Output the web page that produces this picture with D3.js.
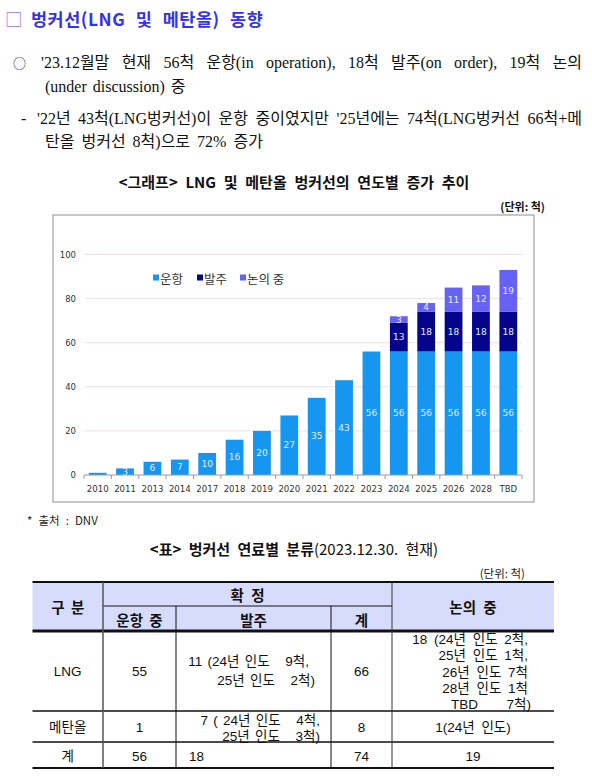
<!DOCTYPE html>
<html><head><meta charset="utf-8">
<script src="https://cdn.jsdelivr.net/npm/d3@7"></script>
<style>
body{margin:0;background:#fff;}
svg{display:block;}
</style></head><body>
<script>
// ---------- DATA ----------
const categories = ["2010","2011","2013","2014","2017","2018","2019","2020","2021","2022","2023","2024","2025","2026","2028","TBD"];
const operating = [1,3,6,7,10,16,20,27,35,43,56,56,56,56,56,56];
const onOrder = [0,0,0,0,0,0,0,0,0,0,0,13,18,18,18,18];
const underDiscussion = [0,0,0,0,0,0,0,0,0,0,0,3,4,11,12,19];
const seriesNames = ["운항","발주","논의 중"];
const yTicks = [0,20,40,60,80,100];

const pageTitle = "벙커선(LNG 및 메탄올) 동향";
const bullet1 = "'23.12월말 현재 56척 운항(in operation), 18척 발주(on order), 19척 논의";
const bullet1b = "(under discussion) 중";
const bullet2 = "'22년 43척(LNG벙커선)이 운항 중이였지만 '25년에는 74척(LNG벙커선 66척+메";
const bullet2b = "탄올 벙커선 8척)으로 72% 증가";
const chartTitle = "<그래프> LNG 및 메탄올 벙커선의 연도별 증가 추이";
const unitText = "(단위: 척)";
const sourceText = "* 출처 : DNV";
const tableTitleBold = "<표> 벙커선 연료별 분류";
const tableTitleRest = "(2023.12.30. 현재)";

const headTop = ["구 분","확 정","논의 중"];
const headSub = ["운항 중","발주","계"];
const rowNames = ["LNG","메탄올","계"];
const colOperating = ["55","1","56"];
const colOrder = [["11 (24년 인도   9척,","25년 인도   2척)"],["7 ( 24년 인도   4척,","25년 인도   3척)"],["18"]];
const colTotal = ["66","8","74"];
const colDiscussion = [["18 (24년 인도 2척,","25년 인도 1척,","26년 인도 7척","28년 인도 1척","TBD|7척)"],["1(24년 인도)"],["19"]];

// ---------- SETUP ----------
const KR = "'Noto Sans CJK KR', sans-serif";
const TB = "'Liberation Sans', 'Noto Sans CJK KR', sans-serif";
const SERIF = "'Liberation Serif', 'Noto Sans CJK KR', serif";
const W = 592, H = 784;
const svg = d3.select("body").append("svg").attr("width", W).attr("height", H);

function plain(str, x, y, font, size, opts = {}) {
  return svg.append("text").attr("x", x).attr("y", y).attr("dominant-baseline","central")
    .attr("font-family", font).attr("font-size", size).attr("fill", opts.fill || "#111")
    .attr("font-weight", opts.weight || "normal").attr("text-anchor", opts.anchor || "start")
    .style("white-space", "pre")
    .style("word-spacing", (opts.ws || 0) + "px")
    .style("letter-spacing", (opts.ls || 0) + "px")
    .text(str);
}
function justify(str, x0, x1, y, font, size) {
  const words = str.split(" ");
  const g = svg.append("g");
  const nodes = words.map(w => g.append("text").attr("y", y).attr("dominant-baseline","central")
      .attr("font-family", font).attr("font-size", size).attr("fill", "#111").text(w));
  const widths = nodes.map(n => n.node().getComputedTextLength());
  const gap = (x1 - x0 - d3.sum(widths)) / (words.length - 1);
  let x = x0;
  nodes.forEach((n, i) => { n.attr("x", x); x += widths[i] + gap; });
}

// ---------- HEADER TEXT ----------
plain("□", 5, 18, KR, 17.5, {fill:"#a070e8"});
plain(pageTitle, 31, 18, KR, 17.5, {weight:"bold", fill:"#3434e6", ws:6, ls:0.5});

plain("○", 13, 62, KR, 13, {fill:"#222"});
justify(bullet1, 41, 582, 62, SERIF, 16);
plain(bullet1b, 45, 86, SERIF, 16, {ws:2});
plain("-", 21, 118, SERIF, 16);
justify(bullet2, 37, 582, 118, SERIF, 16);
plain(bullet2b, 45, 141, SERIF, 16, {ws:3});

plain(chartTitle, 294, 181, KR, 15, {weight:"bold", anchor:"middle", ws:4.3});
plain(unitText, 545, 206, KR, 11, {weight:"bold", anchor:"end"});

// ---------- CHART ----------
svg.append("rect").attr("x", 53).attr("y", 215).attr("width", 481).attr("height", 287)
  .attr("fill", "#fff").attr("stroke", "#a8a8a8").attr("stroke-width", 1.3);

const x = d3.scaleBand().domain(categories).range([84, 522]).paddingInner(0.35).paddingOuter(0.175);
const y = d3.scaleLinear().domain([0, 100]).range([475, 254.5]);

svg.append("g").selectAll("line").data(yTicks.filter(d => d > 0)).join("line")
  .attr("x1", 85).attr("x2", 522).attr("y1", d => y(d)).attr("y2", d => y(d))
  .attr("stroke", "#eddfe4").attr("stroke-width", 1);

const yAxis = svg.append("g").attr("transform", "translate(84,0)")
  .call(d3.axisLeft(y).tickValues(yTicks).tickSize(0).tickPadding(8));
yAxis.select(".domain").remove();
yAxis.selectAll("text").attr("font-family", "'DejaVu Sans', sans-serif").attr("font-size", 8.5).attr("fill", "#333");

const table = categories.map((c, i) => ({cat: c, op: operating[i], ord: onOrder[i], dis: underDiscussion[i]}));
const stack = d3.stack().keys(["op","ord","dis"])(table);
const colors = {op: "#1597f1", ord: "#05058c", dis: "#6762f3"};

const gBars = svg.append("g");
stack.forEach(s => {
  gBars.append("g").selectAll("rect").data(s.filter(d => d[1] - d[0] > 0)).join("rect")
    .attr("x", d => x(d.data.cat)).attr("width", x.bandwidth())
    .attr("y", d => y(d[1])).attr("height", d => y(d[0]) - y(d[1]))
    .attr("fill", colors[s.key]);
  gBars.append("g").selectAll("text").data(s.filter(d => d[1] - d[0] >= 2)).join("text")
    .attr("x", d => x(d.data.cat) + x.bandwidth() / 2)
    .attr("y", d => y((d[0] + d[1]) / 2))
    .attr("text-anchor", "middle").attr("dominant-baseline", "central")
    .attr("font-family", "'DejaVu Sans', sans-serif").attr("font-size", 9)
    .attr("fill", "#e2ecfb").text(d => d[1] - d[0]);
});

const xAxisG = svg.append("g").attr("transform", "translate(0,475)");
xAxisG.append("line").attr("x1", 84).attr("x2", 522).attr("stroke", "#9a9a9a");
const bounds = categories.map(c => x(c) - x.step() * x.paddingInner() / 2).concat([522]);
xAxisG.selectAll("line.tk").data(bounds).join("line").attr("class","tk")
  .attr("x1", d => d).attr("x2", d => d).attr("y1", 0).attr("y2", 4).attr("stroke", "#9a9a9a");
xAxisG.selectAll("text").data(categories).join("text")
  .attr("x", d => x(d) + x.bandwidth() / 2).attr("y", 14).attr("text-anchor", "middle")
  .attr("dominant-baseline", "central")
  .attr("font-family", "'DejaVu Sans', sans-serif").attr("font-size", 8.6).attr("fill", "#333").text(d => d);

const legX = [153, 197, 240];
const legCols = [colors.op, colors.ord, colors.dis];
seriesNames.forEach((n, i) => {
  svg.append("rect").attr("x", legX[i]).attr("y", 274.5).attr("width", 6).attr("height", 6).attr("fill", legCols[i]);
  plain(n, legX[i] + 7, 278, KR, 12.5, {fill:"#333"});
});

// ---------- SOURCE & TABLE TITLE ----------
plain(sourceText, 27, 520, KR, 11.5, {fill:"#222", ws:3.5});
const tt = svg.append("text").attr("x", 294).attr("y", 548).attr("text-anchor","middle").attr("dominant-baseline","central")
  .attr("font-family", KR).attr("font-size", 15).attr("fill", "#111").style("word-spacing","4px");
tt.append("tspan").attr("font-weight","bold").text(tableTitleBold);
tt.append("tspan").text(tableTitleRest);
plain(unitText, 525, 573, KR, 11.5, {anchor:"end", fill:"#222"});

// ---------- TABLE ----------
const cx = [32.5, 103, 176, 331, 392, 554];
const ry = [582, 606, 631, 711, 742, 768];
svg.append("rect").attr("x", cx[0]).attr("y", ry[0]).attr("width", cx[5]-cx[0]).attr("height", ry[2]-ry[0]).attr("fill", "#d8dcfc");
function hl(x1, x2, yy, w, c) { svg.append("line").attr("x1", x1).attr("x2", x2).attr("y1", yy).attr("y2", yy).attr("stroke", c || "#111").attr("stroke-width", w); }
function vl(xx, y1, y2, w, c) { svg.append("line").attr("x1", xx).attr("x2", xx).attr("y1", y1).attr("y2", y2).attr("stroke", c || "#111").attr("stroke-width", w); }
hl(cx[0], cx[5], ry[0], 2);
hl(cx[1], cx[4], ry[1], 1);
hl(cx[0], cx[5], ry[2], 3);
hl(cx[0], cx[5], ry[3], 1.5);
hl(cx[0], cx[5], ry[4], 1.5);
hl(cx[0], cx[5], ry[5], 2);
vl(cx[1], ry[0], ry[5], 1.5, "#555");
vl(cx[2], ry[1], ry[5], 1);
vl(cx[3], ry[1], ry[5], 1);
vl(cx[4], ry[0], ry[5], 1, "#333");

const hs = 14.5;
plain(headTop[0], (cx[0]+cx[1])/2, (ry[0]+ry[2])/2, KR, hs, {weight:"bold", anchor:"middle", ws:3});
plain(headTop[1], (cx[1]+cx[4])/2, (ry[0]+ry[1])/2, KR, hs, {weight:"bold", anchor:"middle", ws:4});
plain(headTop[2], (cx[4]+cx[5])/2, (ry[0]+ry[2])/2, KR, hs, {weight:"bold", anchor:"middle", ws:4});
headSub.forEach((h, i) => plain(h, (cx[i+1]+cx[i+2])/2, (ry[1]+ry[2])/2 + 1, KR, hs, {weight:"bold", anchor:"middle", ws:3}));

const bs = 13.5;
const rowMid = [671, 727, 756];
rowNames.forEach((n, i) => {
  plain(n, (cx[0]+cx[1])/2, rowMid[i], TB, bs, {anchor:"middle"});
  plain(colOperating[i], (cx[1]+cx[2])/2, rowMid[i], TB, bs, {anchor:"middle"});
  plain(colTotal[i], (cx[3]+cx[4])/2, rowMid[i], TB, bs, {anchor:"middle"});
});
// order column (right ends)
const orderEnd = [[309, 315], [320, 320], [null]];
const orderY = [[661, 680], [720, 736], [756]];
colOrder.forEach((lines, i) => lines.forEach((l, j) => {
  if (orderEnd[i][j] === null) plain(l, 189, orderY[i][j], TB, bs);
  else plain(l, orderEnd[i][j], orderY[i][j], TB, bs, {anchor:"end", ws:1.5});
}));
// discussion column
const discEnd = [[528, 528, 528, 528, 531], [null], [null]];
const discY = [[639, 655, 672, 688, 704], [727], [756]];
colDiscussion.forEach((lines, i) => lines.forEach((l, j) => {
  if (discEnd[i][j] === null) { plain(l, (cx[4]+cx[5])/2, discY[i][j], TB, bs, {anchor:"middle", ws:3}); return; }
  if (l.includes("|")) {
    const [a, b] = l.split("|");
    plain(a, 451, discY[i][j], TB, bs);
    plain(b, discEnd[i][j], discY[i][j], TB, bs, {anchor:"end"});
  } else plain(l, discEnd[i][j], discY[i][j], TB, bs, {anchor:"end", ws:3});
}));
</script>
</body></html>
